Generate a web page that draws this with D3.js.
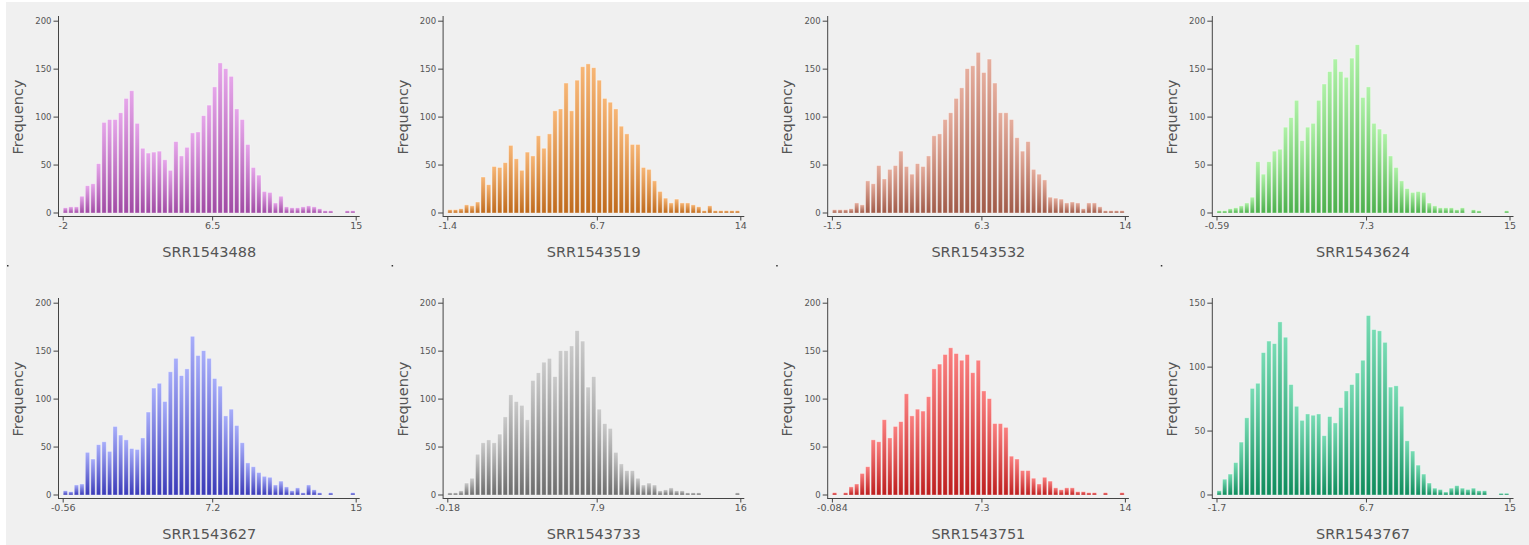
<!DOCTYPE html>
<html>
<head>
<meta charset="utf-8">
<script src="https://cdn.jsdelivr.net/npm/d3@7"></script>
<style>
  body { margin: 0; background: #ffffff; }
  svg { display: block; }
</style>
</head>
<body>
<div id="chart"></div>
<script>
// sample names, one histogram per sample
const samples = ["SRR1543488", "SRR1543519", "SRR1543532", "SRR1543624",
                 "SRR1543627", "SRR1543733", "SRR1543751", "SRR1543767"];

// x range of each histogram (min, max of the data)
const xDomains = [[-2, 15], [-1.4, 14.8], [-1.5, 14.1], [-0.59, 15.2],
                  [-0.56, 15.0], [-0.18, 16.0], [-0.084, 14.7], [-1.7, 15.1]];

// x tick positions and their labels
const xTickValues = [[-2, 6.67, 15], [-1.4, 6.87, 14.8], [-1.5, 6.46, 14.1], [-0.59, 7.47, 15.2],
                     [-0.56, 7.38, 15.0], [-0.18, 8.07, 16.0], [-0.084, 7.46, 14.7], [-1.7, 6.87, 15.1]];
const xTickLabels = [["-2", "6.5", "15"], ["-1.4", "6.7", "14"], ["-1.5", "6.3", "14"], ["-0.59", "7.3", "15"],
                     ["-0.56", "7.2", "15"], ["-0.18", "7.9", "16"], ["-0.084", "7.3", "14"], ["-1.7", "6.7", "15"]];

const yMax = [200, 200, 200, 200, 200, 200, 200, 150];
const yTicks200 = [0, 50, 100, 150, 200];
const yTicks150 = [0, 50, 100, 150];

// bin counts (53 equal bins between min and max)
const counts488 = [5, 6, 6, 17, 28, 30, 51, 94, 97, 97, 104, 119, 127, 93, 67, 62, 63, 64, 55, 44,
  74, 59, 68, 83, 84, 101, 112, 131, 156, 150, 142, 108, 97, 71, 47, 39, 22, 21, 10, 17,
  6, 5, 5, 6, 7, 6, 4, 2, 2, 0, 0, 2, 2];
const counts519 = [3, 3, 4, 8, 7, 11, 37, 29, 48, 47, 52, 70, 56, 44, 63, 59, 80, 67, 82, 106,
  108, 135, 106, 138, 152, 155, 151, 138, 119, 115, 108, 90, 82, 71, 71, 47, 45, 33, 22, 15,
  10, 14, 10, 10, 8, 6, 2, 7, 2, 2, 2, 2, 2];
const counts532 = [3, 3, 3, 4, 10, 8, 33, 30, 49, 35, 45, 49, 64, 48, 40, 51, 48, 59, 80, 82,
  97, 104, 119, 130, 150, 153, 167, 146, 160, 135, 104, 104, 97, 78, 64, 74, 45, 40, 34, 16,
  15, 14, 10, 11, 10, 4, 10, 10, 6, 2, 2, 2, 2];
const counts624 = [2, 2, 4, 5, 7, 10, 16, 53, 40, 53, 64, 66, 89, 99, 117, 75, 89, 93, 117, 134,
  147, 160, 147, 141, 161, 175, 120, 131, 93, 87, 82, 59, 47, 33, 25, 21, 22, 21, 10, 7,
  5, 5, 5, 3, 5, 0, 3, 2, 0, 0, 0, 0, 2];
const counts627 = [4, 3, 10, 11, 44, 37, 52, 55, 45, 71, 62, 57, 48, 47, 59, 86, 111, 116, 97, 128,
  142, 124, 131, 165, 145, 150, 142, 121, 113, 82, 89, 72, 54, 33, 29, 23, 19, 18, 10, 14,
  8, 4, 7, 2, 10, 5, 2, 0, 2, 0, 0, 0, 2];
const counts733 = [2, 2, 4, 12, 17, 42, 54, 57, 54, 63, 81, 104, 97, 93, 78, 119, 127, 138, 142, 123,
  150, 150, 155, 171, 160, 112, 123, 89, 74, 69, 44, 32, 25, 25, 17, 10, 12, 10, 4, 5,
  7, 4, 4, 2, 2, 2, 0, 0, 0, 0, 0, 0, 2];
const counts751 = [2, 0, 2, 8, 11, 22, 29, 57, 55, 78, 59, 71, 76, 105, 82, 89, 87, 102, 131, 136,
  146, 153, 147, 140, 146, 127, 140, 108, 100, 74, 74, 70, 40, 37, 25, 25, 17, 11, 18, 14,
  7, 5, 7, 7, 3, 3, 2, 2, 0, 2, 0, 0, 2];
const counts767 = [3, 12, 16, 25, 41, 60, 83, 87, 111, 120, 118, 135, 123, 86, 69, 58, 63, 62, 63, 46,
  61, 56, 68, 81, 86, 95, 105, 140, 129, 128, 119, 84, 85, 69, 42, 34, 23, 16, 9, 5,
  4, 2, 5, 7, 5, 4, 5, 3, 3, 0, 0, 1, 1];
const allCounts = [counts488, counts519, counts532, counts624, counts627, counts733, counts751, counts767];

// bar gradient colours, top and bottom
const topColors = ["#e6a6ea", "#f7b676", "#e6ae9e", "#b0f2a8", "#a8aefa", "#cbcbcb", "#fa8080", "#78dcb4"];
const bottomColors = ["#a04aa4", "#bf6a1c", "#a05a48", "#4cb04c", "#3a3ab8", "#6c6c6c", "#be1e1e", "#0e8c5c"];

const W = 1529, H = 545;
const colW = 384.6, rowH = 282;
const axisX = 58.5, axisY = 216.5;
const xLeft = 62.7, xRight = 355.7;
const yBottom = 212.5, yTop = 20.7;

const svg = d3.select("#chart").append("svg")
  .attr("width", W)
  .attr("height", H);

svg.append("rect")
  .attr("x", 6).attr("y", 2)
  .attr("width", W - 6).attr("height", H - 2)
  .attr("fill", "#f0f0f0");

const defs = svg.append("defs");

samples.forEach((name, p) => {
  const col = p % 4, row = Math.floor(p / 4);
  const g = svg.append("g")
    .attr("transform", "translate(" + col * colW + "," + row * rowH + ")");

  const grad = defs.append("linearGradient")
    .attr("id", "grad" + p)
    .attr("x1", 0).attr("y1", 0).attr("x2", 0).attr("y2", 1);
  grad.append("stop").attr("offset", "0%").attr("stop-color", topColors[p]);
  grad.append("stop").attr("offset", "100%").attr("stop-color", bottomColors[p]);

  const counts = allCounts[p];
  const [lo, hi] = xDomains[p];
  const binW = (hi - lo) / counts.length;
  const bins = counts.map((c, i) => ({ x0: lo + i * binW, x1: lo + (i + 1) * binW, count: c }));

  const x = d3.scaleLinear().domain([lo, hi]).range([xLeft, xRight]);
  const y = d3.scaleLinear().domain([0, yMax[p]]).range([yBottom, yTop]);

  g.selectAll("rect.bar")
    .data(bins.filter((d) => d.count > 0))
    .enter()
    .append("rect")
    .attr("class", "bar")
    .attr("x", (d) => x(d.x0) + 0.5)
    .attr("y", (d) => y(d.count))
    .attr("width", (d) => x(d.x1) - x(d.x0) - 1.2)
    .attr("height", (d) => y(0) - y(d.count) + 0.5)
    .attr("fill", "url(#grad" + p + ")")
    .attr("stroke", "rgba(255,255,255,0.45)")
    .attr("stroke-width", 0.8);

  // y axis
  const yAxis = g.append("g")
    .attr("transform", "translate(" + axisX + ",0)")
    .call(d3.axisLeft(y)
      .tickValues(yMax[p] === 150 ? yTicks150 : yTicks200)
      .tickSize(5)
      .tickPadding(2));
  yAxis.select(".domain").remove();
  yAxis.selectAll("line").attr("stroke", "#444");
  yAxis.selectAll("text")
    .attr("fill", "#555")
    .style("font-family", "DejaVu Sans")
    .style("font-size", "8.5px");

  // x axis
  const xAxis = g.append("g")
    .attr("transform", "translate(0," + axisY + ")")
    .call(d3.axisBottom(x)
      .tickValues(xTickValues[p])
      .tickFormat((d, i) => xTickLabels[p][i])
      .tickSize(4)
      .tickPadding(2));
  xAxis.select(".domain").remove();
  xAxis.selectAll("line").attr("stroke", "#444");
  xAxis.selectAll("text")
    .attr("fill", "#555")
    .style("font-family", "DejaVu Sans")
    .style("font-size", "9.5px");

  g.append("line")
    .attr("x1", axisX).attr("x2", axisX)
    .attr("y1", 16).attr("y2", axisY + 0.5)
    .attr("stroke", "#444");
  g.append("line")
    .attr("x1", axisX).attr("x2", xRight + 4)
    .attr("y1", axisY).attr("y2", axisY)
    .attr("stroke", "#444");

  g.append("text")
    .attr("x", (xLeft + xRight) / 2)
    .attr("y", 257)
    .attr("text-anchor", "middle")
    .attr("fill", "#555")
    .style("font-family", "DejaVu Sans")
    .style("font-size", "14.5px")
    .text(name);

  g.append("text")
    .attr("transform", "translate(23,117) rotate(-90)")
    .attr("text-anchor", "middle")
    .attr("fill", "#555")
    .style("font-family", "DejaVu Sans")
    .style("font-size", "14.5px")
    .text("Frequency");

  if (row === 0) {
    g.append("rect")
      .attr("x", 7).attr("y", 265)
      .attr("width", 1.5).attr("height", 1.5)
      .attr("fill", "#333");
  }
});
</script>
</body>
</html>
